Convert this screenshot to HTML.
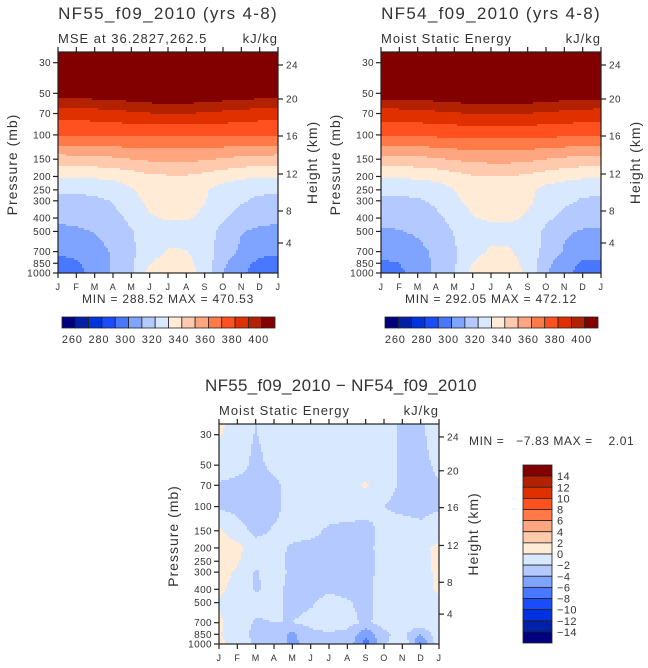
<!DOCTYPE html>
<html><head><meta charset="utf-8">
<style>
html,body{margin:0;padding:0;background:#fff;}
svg{display:block;font-family:"Liberation Sans",sans-serif;}
text{fill:#333;letter-spacing:0.4px;white-space:pre;}
</style></head>
<body>
<svg id="fig" width="648" height="668" viewBox="0 0 648 668" xmlns="http://www.w3.org/2000/svg"></svg>
<script>
// ---- data ----
const months = ["J","F","M","A","M","J","J","A","S","O","N","D","J"];
const levels = [1000,850,700,500,400,300,250,200,150,100,70,50,30,25];
const pressureTicks = [1000,850,700,500,400,300,250,200,150,100,70,50,30];
const heightTicks = [4,8,12,16,20,24];
const heightOffsets = [191,159,122,84,47,13];
const mseLevels = [260,270,280,290,300,310,320,330,340,350,360,370,380,390,400];
const mseLabels = [260,280,300,320,340,360,380,400];
const diffLevels = [-14,-12,-10,-8,-6,-4,-2,0,2,4,6,8,10,12,14];
const palette = ["#00007f","#0020a8","#0033e0","#1a4cff","#4778ff","#7ea4ff","#b3c9ff","#d8e8ff","#ffebd6","#ffc9ad","#ffa57f","#ff7a47","#ff5020","#e03000","#b32200","#820000"];

// NF55 MSE (rows = levels, cols = months)
const mse55 = [
 [295,297,303,311,318,333,334,333,328,310,302,295,295],
 [298,299,304,311,318,329.5,334,333,326,312,303,298,298],
 [301,302,306,311,318,326,330.8,330.5,325,316,308,302,301],
 [307.5,308.5,310.5,314,319.5,324,326,326,324,317,310.5,308,307.5],
 [312,312.5,314,317,322,329,331,331,328,321,316,313,312],
 [317,317,318,320.5,327,332,334,334,330.5,326,321,318,317],
 [322,322,322.5,324,329,334,336,336,331,326,323,322,322],
 [331,331,331.5,332.5,335,338,339,339,337,334,332,331,331],
 [345.5,345.7,346.5,348,350,351.5,352,352,351,349,347,346,345.5],
 [371,371,371,371,371,371,371,371,371,371,371,371,371],
 [384,384.3,385,386.5,388,389.5,390,390,389,387.5,386,384.8,384],
 [405,405.3,406,407,408,409.5,410,410,409,407.5,406.5,405.5,405],
 [430,430,430,430,430,430,430,430,430,430,430,430,430],
 [440,440,440,440,440,440,440,440,440,440,440,440,440]
];
// NF54 MSE
const mse54 = [
 [296,298,304,312,319,333.5,334.5,334,329,311,303,296,296],
 [299,300,305,312,319,330,334.5,333.5,327,313,304,299,299],
 [302,303,307,312,319,327,331.2,331,326,317,309,303,302],
 [308.5,309.5,311.5,315,320.5,325,327,327,325,318,311.5,309,308.5],
 [313,313.5,315,318,323,329.5,331.5,331.5,329,322,317,314,313],
 [318,318,319,321.5,328,333,335,335,331.5,327,322,319,318],
 [322.5,322.5,323,325,330,335,337,337,332,327,324,322.5,322.5],
 [331,331,332,333,336,339,340,340,338,335,333,331.5,331],
 [346,346.2,347,348.5,351,352.5,353,353,352,350,348,346.5,346],
 [372,372,372,372,372,372,372,372,372,372,372,372,372],
 [385,385.3,386,387.5,389,390.5,391,391,390,388.5,387,385.8,385],
 [406,406.3,407,408,409,410.5,411,411,410,408.5,407.5,406.5,406],
 [431,431,431,431,431,431,431,431,431,431,431,431,431],
 [441,441,441,441,441,441,441,441,441,441,441,441,441]
];
// difference NF55 - NF54
const diff = [
 [0.5,-0.8,-2.3,-2.5,-4.8,-2.5,-2.3,-2.5,-7.0,-2.5,0.2,-6.5,-0.5],
 [0.2,-1.2,-2.5,-2.6,-4.5,-2.5,-2.2,-2.5,-5.5,-2.5,-1.3,-4.0,-0.5],
 [0.3,-1.0,-2.2,-2.0,-2.0,-1.5,-1.2,-1.3,-2.4,-1.2,-1.0,-0.8,-0.3],
 [-0.2,-0.8,-1.5,-1.5,-2.5,-2.2,-1.5,-1.8,-2.6,-1.2,-1.0,-0.8,-0.5],
 [0.4,-0.8,-2.2,-1.5,-2.5,-2.6,-2.2,-2.5,-2.6,-1.2,-1.0,-0.8,0.3],
 [0.8,-0.3,-2.2,-1.2,-2.4,-2.4,-2.6,-2.6,-2.6,-1.3,-1.0,-0.8,0.5],
 [1.0,0.2,-1.5,-1.5,-2.4,-2.5,-2.5,-2.4,-2.5,-1.5,-1.2,-0.8,0.6],
 [1.2,0.6,-1.2,-1.5,-2.2,-2.5,-2.5,-2.6,-2.4,-1.5,-1.0,-0.5,0.5],
 [0.3,-1.2,-2.5,-1.8,-1.5,-1.5,-2.3,-2.6,-2.6,-1.5,-1.2,-1.5,-1.0],
 [-2.3,-2.6,-3.0,-2.5,-1.3,-1.0,-1.0,-1.0,-1.3,-2.0,-2.4,-2.6,-2.2],
 [-2.2,-2.6,-3.0,-2.5,-1.2,-1.0,-1.0,-1.0,0.3,-1.5,-2.2,-2.8,-2.2],
 [-1.0,-1.2,-2.5,-1.5,-1.0,-1.0,-1.0,-1.0,-1.2,-1.5,-2.2,-2.7,-1.5],
 [0.2,-1.0,-2.1,-1.2,-1.0,-1.0,-1.0,-1.0,-1.0,-1.3,-2.3,-2.6,-0.5],
 [0.5,-1.0,-2.1,-1.2,-1.0,-1.0,-1.0,-1.0,-1.0,-1.3,-2.3,-2.5,0.2]
];

const NS="http://www.w3.org/2000/svg";
const svg=document.getElementById('fig');
function el(tag,attrs,parent){const e=document.createElementNS(NS,tag);for(const k in attrs)e.setAttribute(k,attrs[k]);(parent||svg).appendChild(e);return e;}
function txt(s,x,y,size,anchor,parent,extra){const t=el('text',Object.assign({x:x,y:y,'font-size':size,'text-anchor':anchor||'start'},extra||{}),parent);t.textContent=s;return t;}

function binIndex(v,lv){let i=0;while(i<lv.length&&v>=lv[i])i++;return i;}
const logLev=levels.map(p=>Math.log10(p));
function sample(grid,m,lp){
  let mi=Math.min(Math.floor(m),11);let fm=m-mi;
  let li=0;while(li<levels.length-2&&lp<logLev[li+1])li++;
  let fl=(logLev[li]-lp)/(logLev[li]-logLev[li+1]);fl=Math.max(0,Math.min(1,fl));
  const a=grid[li][mi],b=grid[li][mi+1],c=grid[li+1][mi],d=grid[li+1][mi+1];
  return (a*(1-fm)+b*fm)*(1-fl)+(c*(1-fm)+d*fm)*fl;
}

function plot(cfg){
  const g=el('g',{},svg);
  
  
  const {x0,y0,w,h,y30}=cfg;
  const slope=(y0+h-y30)/(3-Math.log10(30));
  const yP=p=>y30+(Math.log10(p)-Math.log10(30))*slope;
  const xOfM=m=>x0+m*w/12;
  const fg=el('g',{'shape-rendering':'crispEdges'},g);
  
  
  const step=2;
  for(let py=y0;py<y0+h;py+=step){
    const lp=Math.log10(30)+((py+step/2)-y30)/slope;
    let runStart=x0,runBin=-1;
    for(let px=x0;px<=x0+w;px+=step){
      let bin=-2;
      if(px<x0+w){const m=Math.max(0,Math.min(12,(px+step/2-x0)/w*12));bin=binIndex(sample(cfg.grid,m,Math.min(3,lp)),cfg.lv);}
      if(bin!==runBin){
        if(runBin>=0){const r=el('rect',{x:runStart,y:py,width:Math.min(px,x0+w)-runStart,height:Math.min(step,y0+h-py),fill:palette[runBin]},fg);
          
          }
        runStart=px;runBin=bin;
      }
    }
  }
  const fr=el('rect',{x:x0,y:y0,width:w,height:h,fill:'none',stroke:'#222','stroke-width':1.2},g);
  
  
  pressureTicks.forEach(p=>{const y=yP(p);
    el('line',{x1:x0-5,x2:x0,y1:y,y2:y,stroke:'#222','stroke-width':1.2},g);
    const t=txt(String(p),x0-7,y+3.5,10,'end',g);
    
    });
  heightTicks.forEach((z,i)=>{const y=y0+heightOffsets[i]*h/221;
    el('line',{x1:x0+w,x2:x0+w+5,y1:y,y2:y,stroke:'#222','stroke-width':1.2},g);
    const t=txt(String(z),x0+w+8,y+3.5,10,'start',g);
    
    });
  months.forEach((mn,i)=>{const x=xOfM(i);
    el('line',{x1:x,x2:x,y1:y0+h,y2:y0+h+5,stroke:'#222','stroke-width':1.2},g);
    el('line',{x1:x,x2:x,y1:y0,y2:y0-5,stroke:'#222','stroke-width':1.2},g);
    const t=txt(mn,x,y0+h+17,9,'middle',g);
    
    });
  const tt=txt(cfg.title,cfg.titleX,y0-33,17,cfg.titleAnchor||'middle',g,{fill:'#444',style:'letter-spacing:'+(cfg.titleSp||1.3)+'px'});
  
  
  const st=txt(cfg.sub,x0,y0-9,13,'start',g,{style:'letter-spacing:1px'});
  
  
  const ut=txt('kJ/kg',x0+w,y0-9,13,'end',g,{style:'letter-spacing:1px'});
  
  
  const pl=txt('Pressure (mb)',0,0,14,'middle',g,{transform:`translate(${cfg.pLabX},${y0+h/2+2}) rotate(-90)`,fill:'#555',style:'letter-spacing:1px'});
  
  
  const hl=txt('Height (km)',0,0,14,'middle',g,{transform:`translate(${x0+w+39},${y0+h/2}) rotate(-90)`,fill:'#555',style:'letter-spacing:1px'});
  
  
}

plot({name:'nf55-panel',grid:mse55,lv:mseLevels,x0:58,y0:52,w:220,h:221,y30:62.7,title:'NF55_f09_2010 (yrs 4-8)',titleX:168,sub:'MSE at 36.2827,262.5',pLabX:17});
plot({name:'nf54-panel',grid:mse54,lv:mseLevels,x0:381,y0:52,w:220,h:221,y30:62.7,title:'NF54_f09_2010 (yrs 4-8)',titleX:491,sub:'Moist Static Energy',pLabX:340});
plot({name:'diff-panel',grid:diff,lv:diffLevels,x0:219,y0:424,w:220,h:220,y30:434.7,title:'NF55_f09_2010 \u2212 NF54_f09_2010',titleX:205,titleAnchor:'start',titleSp:0.3,sub:'Moist Static Energy',pLabX:178});

[['MIN = 288.52 MAX = 470.53',168],['MIN = 292.05 MAX = 472.12',491]].forEach(([s,x])=>{
  const t=txt(s,x,303,12,'middle',svg,{style:'letter-spacing:0.8px'});
  
  });
const mm=txt('MIN =   \u22127.83 MAX =    2.01',469,445,12,'start',svg,{style:'letter-spacing:0.6px'});



function hbar(x0,name){
  const g=el('g',{},svg);
  
  
  const bw=213/16;
  palette.forEach((c,i)=>{const r=el('rect',{x:x0+i*bw,y:317,width:bw,height:11,fill:c,stroke:'#222','stroke-width':0.8},g);
    
    });
  mseLabels.forEach(v=>{const k=mseLevels.indexOf(v)+1;const t=txt(String(v),x0+k*bw-3,343,11,'middle',g,{style:'letter-spacing:0.8px'});
    
    });
}
hbar(62,'colorbar-left');
hbar(385,'colorbar-right');

(function(){
  const g=el('g',{},svg);
  
  
  const y0=465,bh=178/16;
  palette.slice().reverse().forEach((c,i)=>{const r=el('rect',{x:523,y:y0+i*bh,width:29,height:bh,fill:c,stroke:'#222','stroke-width':0.8},g);
    
    });
  diffLevels.slice().reverse().forEach((v,i)=>{const t=txt(String(v).replace('-','\u2212'),557,y0+(i+1)*bh+4,11,'start',g);
    
    });
})();
</script>
</body></html>
